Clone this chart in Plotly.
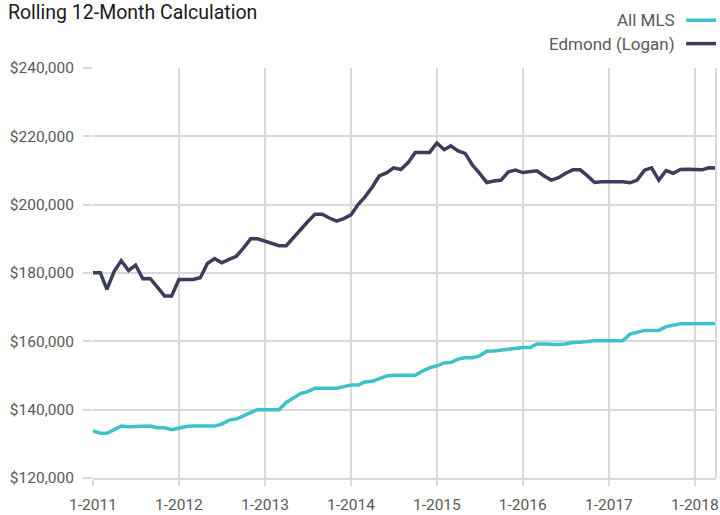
import pandas as pd
import plotly.graph_objects as go

months = pd.date_range("2011-01-01", "2018-04-01", freq="MS")

all_mls = [
    133750, 133100, 133100, 134250, 135200, 135000, 135050, 135050, 135200, 134700, 134700, 134150,
    134600, 135050, 135200, 135200, 135200, 135200, 135800, 136950, 137250, 138200, 139200, 140050,
    140000, 140000, 140000, 142100, 143250, 144700, 145300, 146250, 146250, 146250, 146250, 146750,
    147200, 147200, 148100, 148300, 149100, 149850, 150100, 150100, 150100, 150100, 151300, 152250,
    152850, 153700, 153800, 154800, 155200, 155200, 155750, 157100, 157200, 157500, 157700, 157900,
    158200, 158200, 159250, 159250, 159150, 159100, 159250, 159650, 159750, 160000, 160150, 160150,
    160150, 160150, 160150, 162150, 162750, 163200, 163200, 163200, 164300, 164750, 165150, 165150,
    165150, 165150, 165200, 165200,
]

edmond = [
    180100, 180100, 175200, 180500, 183600, 180750, 182300, 178300, 178400, 176000, 173300, 173300,
    178100, 178100, 178100, 178600, 182800, 184200, 183000, 184000, 184900, 187300, 190000, 190000,
    189300, 188600, 188000, 188000, 190400, 192700, 195000, 197200, 197200, 196100, 195200, 195900,
    197000, 200100, 202200, 205100, 208400, 209300, 210800, 210300, 212300, 215300, 215300, 215300,
    218050, 216100, 217200, 215700, 215000, 211600, 209200, 206500, 206900, 207200, 209600, 210100,
    209400, 209600, 209900, 208400, 207200, 207900, 209200, 210200, 210200, 208500, 206500, 206700,
    206700, 206500, 206700, 206400, 207200, 210100, 210800, 207200, 210000, 209200, 210300, 210400,
    210200, 210200, 210800, 210700,
]

series_names = ["All MLS", "Edmond (Logan)"]
series_colors = ["#40c0cb", "#3b3d5a"]

tick_dates = pd.date_range("2011-01-01", "2018-01-01", freq="YS")
tick_labels = ["1-2011", "1-2012", "1-2013", "1-2014", "1-2015", "1-2016", "1-2017", "1-2018"]

y_ticks = [120000, 140000, 160000, 180000, 200000, 220000, 240000]
y_tick_labels = ["$120,000", "$140,000", "$160,000", "$180,000", "$200,000", "$220,000", "$240,000"]

GRID = "#d9d9d9"
TXT = "#595959"
FONT = "Roboto, Arial, sans-serif"

fig = go.Figure()
for name, vals, col in zip(series_names, [all_mls, edmond], series_colors):
    fig.add_trace(go.Scatter(
        x=months, y=vals, mode="lines", name=name,
        line=dict(color=col, width=3.5), showlegend=False,
    ))

fig.update_layout(
    width=720, height=515,
    margin=dict(l=93, r=1, t=68, b=35),
    paper_bgcolor="white", plot_bgcolor="white",
    font=dict(family=FONT, color=TXT, size=14),
    title=dict(text="Rolling 12-Month Calculation", x=0.011, xanchor="left",
               y=0.977, yanchor="middle",
               font=dict(family=FONT, size=19.5, color="#1a1a1a")),
)

fig.update_xaxes(
    range=[months[0], months[-1]],
    tickvals=tick_dates, ticktext=tick_labels,
    showgrid=True, gridcolor=GRID, gridwidth=2,
    showline=True, linecolor=GRID, linewidth=2,
    ticks="outside", ticklen=6, tickcolor=GRID, tickwidth=2,
    tickfont=dict(size=15.5, color=TXT),
    ticklabeloverflow="allow",
    ticklabelstandoff=5,
    zeroline=False,
)
fig.update_yaxes(
    range=[120000, 240000],
    tickvals=y_ticks, ticktext=y_tick_labels,
    showgrid=True, gridcolor=GRID, gridwidth=2,
    showline=False,
    ticks="outside", ticklen=9, tickcolor=GRID, tickwidth=2,
    tickfont=dict(size=15.5, color=TXT),
    ticklabelstandoff=6,
    zeroline=False,
)

# right border line
fig.add_shape(type="line", xref="paper", yref="paper", x0=1, x1=1, y0=0, y1=1,
              line=dict(color=GRID, width=2))

# custom legend (text left of symbol)
for k, (name, col) in enumerate(zip(series_names, series_colors)):
    ypix = 20 + 23.5 * k
    ypaper = 1 + (68 - ypix) / (515 - 68 - 35)
    fig.add_annotation(xref="paper", yref="paper", x=(680 - 93) / 626, y=ypaper,
                       text=name, showarrow=False, xanchor="right", yanchor="middle",
                       font=dict(family=FONT, size=17, color=TXT))
    fig.add_shape(type="line", xref="paper", yref="paper",
                  x0=(689 - 93) / 626, x1=(719 - 93) / 626, y0=ypaper, y1=ypaper,
                  line=dict(color=col, width=3.5))

fig.write_html(
    "out.html",
    config={"displayModeBar": False},
    post_script="document.body.style.margin='0';document.body.style.overflow='hidden';",
)
